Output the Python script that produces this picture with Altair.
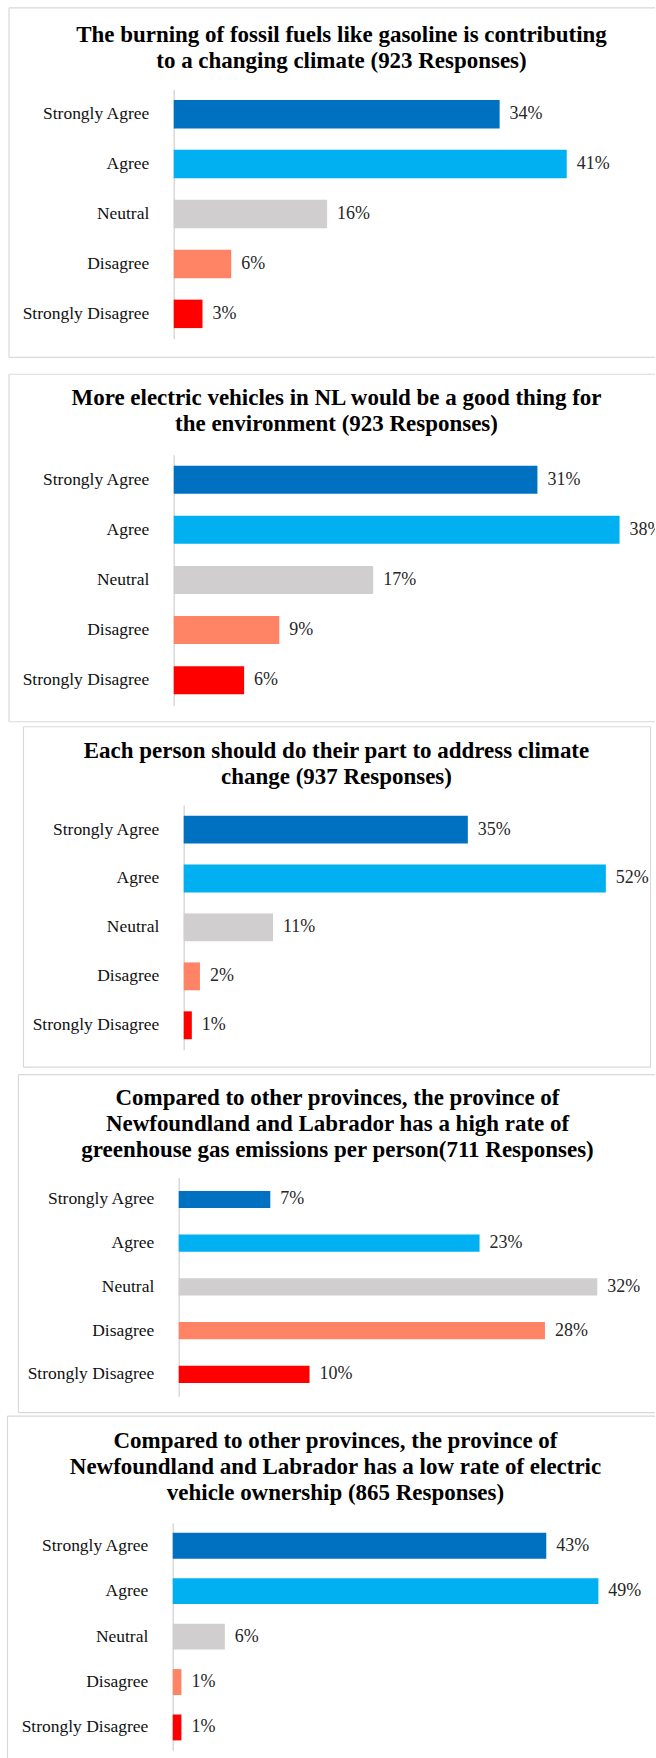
import altair as alt
import pandas as pd

# Survey response categories and bar colours
categories = ["Strongly Agree", "Agree", "Neutral", "Disagree", "Strongly Disagree"]
colors = ["#0070C0", "#00B0F0", "#D0CECE", "#FF8466", "#FF0000"]

# Question titles
titles = [
    "The burning of fossil fuels like gasoline is contributing\nto a changing climate (923 Responses)",
    "More electric vehicles in NL would be a good thing for\nthe environment  (923 Responses)",
    "Each person should do their part to address climate\nchange (937 Responses)",
    "Compared to other provinces, the province of\nNewfoundland and Labrador has a high rate of\ngreenhouse gas emissions per person(711 Responses)",
    "Compared to other provinces, the province of\nNewfoundland and Labrador has a low rate of electric\nvehicle ownership (865 Responses)",
]

# Share of responses (%) per category, one list per question
fossil_fuels_climate = [34, 41, 16, 6, 3]
ev_good_for_environment = [31, 38, 17, 9, 6]
each_person_their_part = [35, 52, 11, 2, 1]
nl_high_ghg_per_person = [7, 23, 32, 28, 10]
nl_low_ev_ownership = [43, 49, 6, 1, 1]

series = [
    fossil_fuels_climate,
    ev_good_for_environment,
    each_person_their_part,
    nl_high_ghg_per_person,
    nl_low_ev_ownership,
]

# Page layout (pixels). All panels share one plot origin X0; each panel's
# category axis sits at its own axis_x, reached through an axis offset.
PAGE_W = 656
X0 = 184
layout = [
    dict(slot=(0, 364), axis_x=174, top=87.5, h=250, pad=0.43, px=9.6,
         frame=(9, 6, 356, None), title_x=342, title_y=40),
    dict(slot=(364, 722), axis_x=174, top=452.5, h=251, pad=0.44, px=11.75,
         frame=(9, 372, 720, None), title_x=337, title_y=403),
    dict(slot=(722, 1068.5), axis_x=184, top=802.5, h=245, pad=0.43, px=8.13,
         frame=(23.5, 724, 1065, 651.5), title_x=337, title_y=755.5),
    dict(slot=(1068.5, 1412), axis_x=179, top=1175, h=219, pad=0.61, px=13.1,
         frame=(18.5, 1072, 1410.5, None), title_x=338, title_y=1102.5),
    dict(slot=(1412, 1758), axis_x=173, top=1520.5, h=227.5, pad=0.43, px=8.7,
         frame=(7.5, 1413.5, None, None), title_x=336, title_y=1445),
]

SERIF = "Liberation Serif"
FRAME_COLOR = "#d9d9d9"
W = PAGE_W - X0
one_row = pd.DataFrame({"_": [0]})


def frame_line(x1, y1, x2, y2):
    return alt.Chart(one_row).mark_rule(color=FRAME_COLOR, strokeWidth=1.2).encode(
        x=alt.value(x1), x2=alt.value(x2), y=alt.value(y1), y2=alt.value(y2)
    )


def panel(title, values, g):
    oy = g["top"]
    d = X0 - g["axis_x"]
    df = pd.DataFrame({"category": categories, "pct": values})

    x = alt.X(
        "pct:Q",
        scale=alt.Scale(domain=[0, (W + d) / g["px"]], range=[-d, W], nice=False, zero=True),
        axis=None,
    )
    y = alt.Y(
        "category:N",
        sort=categories,
        scale=alt.Scale(paddingInner=g["pad"], paddingOuter=g["pad"] / 2),
        axis=alt.Axis(
            title=None, ticks=False, grid=False, offset=d,
            domainColor=FRAME_COLOR, domainWidth=1.5,
            labelFont=SERIF, labelFontSize=17.5, labelColor="#111111",
            labelPadding=25, labelLimit=300,
        ),
    )

    base = alt.Chart(df)
    bars = base.mark_bar().encode(
        x=x, y=y,
        color=alt.Color("category:N", scale=alt.Scale(domain=categories, range=colors), legend=None),
    )
    labels = base.transform_calculate(label="datum.pct + '%'").mark_text(
        align="left", baseline="middle", dx=10, font=SERIF, fontSize=18,
        color="#262626", clip=True,
    ).encode(x=x, y=y, text="label:N")

    # invisible box reserving the panel's slot on the page
    slot = alt.Chart(one_row).mark_rect(opacity=0).encode(
        x=alt.value(-X0), x2=alt.value(W),
        y=alt.value(g["slot"][0] - oy), y2=alt.value(g["slot"][1] - oy),
    )

    heading = alt.Chart(one_row).mark_text(
        text=title, lineBreak="\n", lineHeight=26, align="center", baseline="alphabetic",
        font=SERIF, fontSize=23, fontWeight="bold", color="#000000",
    ).encode(x=alt.value(g["title_x"] - X0), y=alt.value(g["title_y"] - oy))

    fl, ft, fb, fr = g["frame"]
    right_edge = (fr if fr is not None else PAGE_W) - X0
    bottom_edge = (fb if fb is not None else g["slot"][1]) - oy
    parts = [slot,
             frame_line(fl - X0, ft - oy, right_edge, ft - oy),
             frame_line(fl - X0, ft - oy, fl - X0, bottom_edge)]
    if fb is not None:
        parts.append(frame_line(fl - X0, fb - oy, right_edge, fb - oy))
    if fr is not None:
        parts.append(frame_line(fr - X0, ft - oy, fr - X0, bottom_edge))

    return alt.layer(*parts, bars, labels, heading).properties(width=W, height=g["h"])


panels = [panel(t, v, g) for t, v, g in zip(titles, series, layout)]

chart = alt.vconcat(*panels, spacing=0).properties(
    padding=0, background="#ffffff"
).configure_view(stroke=None)

chart.save("out.html", embed_options={"renderer": "svg", "actions": False})
